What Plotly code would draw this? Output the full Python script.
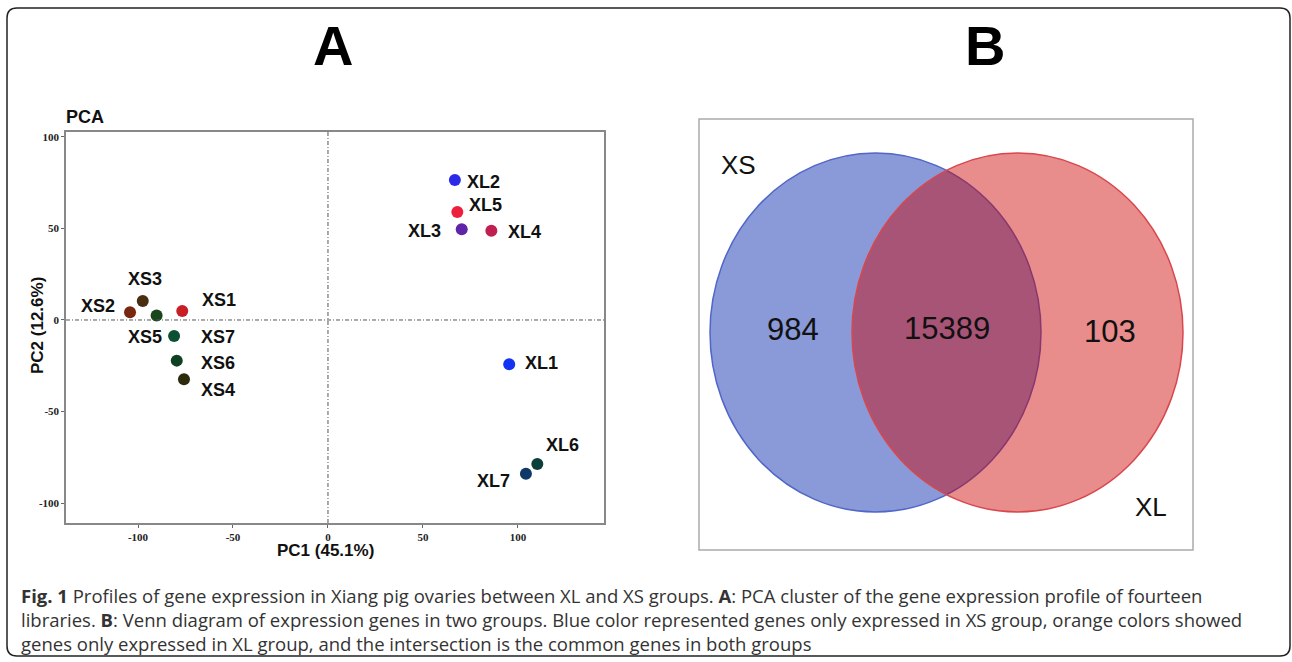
import plotly.graph_objects as go

W, H = 1292, 662

# PCA scores of the fourteen libraries
samples = ["XS1", "XS2", "XS3", "XS4", "XS5", "XS6", "XS7",
           "XL1", "XL2", "XL3", "XL4", "XL5", "XL6", "XL7"]
pc1 = [-76.7, -104.2, -97.5, -75.8, -90.2, -79.6, -81.0,
       95.4, 66.8, 70.4, 86.0, 68.1, 110.2, 104.2]
pc2 = [4.9, 4.2, 10.4, -32.4, 2.4, -22.2, -8.7,
       -24.2, 76.5, 49.6, 48.8, 59.0, -78.7, -84.0]
sample_colors = ["#c81f25", "#77280f", "#4b2d10", "#2c2b0b", "#1a461c", "#0f4120", "#0b5033",
                 "#1432f2", "#2a2ae8", "#5e25a8", "#c01f52", "#ee1f3c", "#0d3f3a", "#0f3768"]
# label offsets (pixels, right / up) from each point
label_dx = [37, -32, 2, 34, -12, 41, 44, 32, 29, -37, 33, 28, 25, -32]
label_dy = [11, 6, 22, -11, -21, -2, -1, 1, -2, -2, -1, 7, 19, -7]

x_ticks = [-100, -50, 0, 50, 100]
y_ticks = [-100, -50, 0, 50, 100]

# Venn counts: XS only, shared, XL only
venn_sets = ["XS", "XL"]
venn_counts = [984, 15389, 103]

caption_lines = [
    "<b>Fig. 1</b> Profiles of gene expression in Xiang pig ovaries between XL and XS groups. "
    "<b>A</b>: PCA cluster of the gene expression profile of fourteen",
    "libraries. <b>B</b>: Venn diagram of expression genes in two groups. Blue color represented "
    "genes only expressed in XS group, orange colors showed",
    "genes only expressed in XL group, and the intersection is the common genes in both groups",
]

SANS = "Liberation Sans, Arial, sans-serif"


def px(x):
    return x / W


def py(y):
    return 1 - y / H


fig = go.Figure()

fig.add_trace(go.Scatter(
    x=pc1, y=pc2, mode="markers", text=samples,
    marker=dict(size=12, color=sample_colors, line=dict(width=0)),
    hoverinfo="text", showlegend=False, xaxis="x", yaxis="y",
))

annotations = []
for s, x, y, dx, dy in zip(samples, pc1, pc2, label_dx, label_dy):
    annotations.append(dict(
        x=x, y=y, xref="x", yref="y", text=f"<b>{s}</b>", showarrow=False,
        xshift=dx, yshift=dy,
        font=dict(family=SANS, size=18, color="#111"),
        xanchor="center", yanchor="middle",
    ))

shapes = []
# reference lines through the origin
ref_line = dict(color="#555", width=1, dash="4px,2px,1px,2px")
shapes.append(dict(type="line", xref="x", yref="y domain", x0=0, x1=0, y0=0, y1=1, line=ref_line))
shapes.append(dict(type="line", xref="x domain", yref="y", x0=0, x1=1, y0=0, y1=0, line=ref_line))

# Venn panel geometry (axis units = pixels of the panel)
vx0, vx1, vy0, vy1 = 699, 1193, 119, 550
vw, vh = vx1 - vx0, vy1 - vy0
ell_l = dict(x0=11, x1=342, y0=38, y1=397)
ell_r = dict(x0=153, x1=484, y0=38, y1=397)
shapes.append(dict(type="rect", xref="x2 domain", yref="y2 domain", x0=0, x1=1, y0=0, y1=1,
                   line=dict(color="#aaa", width=1.5), fillcolor="rgba(0,0,0,0)"))
shapes.append(dict(type="circle", xref="x2", yref="y2", **ell_l,
                   fillcolor="rgba(30,60,180,0.52)", line=dict(color="#5066c8", width=1.5)))
shapes.append(dict(type="circle", xref="x2", yref="y2", **ell_r,
                   fillcolor="rgba(204,0,0,0.45)", line=dict(color="#d9474d", width=1.5)))

venn_font = dict(family=SANS, size=31, color="#111")
venn_pos = [((ell_l["x0"] + ell_r["x0"]) / 2 + 12, 221),
            ((ell_r["x0"] + ell_l["x1"]) / 2, 222),
            ((ell_l["x1"] + ell_r["x1"]) / 2 - 2, 219)]
for (vx, vy), c in zip(venn_pos, venn_counts):
    annotations.append(dict(x=vx, y=vy, xref="x2", yref="y2", text=str(c), showarrow=False,
                            font=venn_font, xanchor="center", yanchor="middle"))
annotations.append(dict(x=ell_l["x0"] + 28, y=ell_l["y1"] - 12, xref="x2", yref="y2",
                        text=venn_sets[0], showarrow=False,
                        font=dict(family=SANS, size=26, color="#111"),
                        xanchor="center", yanchor="middle"))
annotations.append(dict(x=ell_r["x1"] - 32, y=ell_r["y0"] + 5, xref="x2", yref="y2",
                        text=venn_sets[1], showarrow=False,
                        font=dict(family=SANS, size=26, color="#111"),
                        xanchor="center", yanchor="middle"))

# panel letters and titles
for letter, lx in (("A", 333), ("B", 985)):
    annotations.append(dict(x=px(lx), y=py(46), xref="paper", yref="paper", text=f"<b>{letter}</b>",
                            showarrow=False, xanchor="center", yanchor="middle",
                            font=dict(family=SANS, size=56, color="#000")))
annotations.append(dict(x=px(64), y=py(117), xref="paper", yref="paper", text="<b>PCA</b>",
                        showarrow=False, xanchor="left", yanchor="middle",
                        font=dict(family=SANS, size=18, color="#111")))

title_font = dict(family=SANS, size=17, color="#111")
annotations.append(dict(x=px(325), y=py(550), xref="paper", yref="paper", text="<b>PC1 (45.1%)</b>",
                        showarrow=False, xanchor="center", yanchor="middle", font=title_font))
annotations.append(dict(x=px(37), y=py(326), xref="paper", yref="paper", text="<b>PC2 (12.6%)</b>",
                        showarrow=False, xanchor="center", yanchor="middle", textangle=-90,
                        font=title_font))

# figure caption
annotations.append(dict(x=px(19), y=py(619), xref="paper", yref="paper",
                        text="<br>".join(caption_lines),
                        showarrow=False, xanchor="left", yanchor="middle", align="left",
                        font=dict(family="Open Sans", size=18.5, color="#333")))

# rounded outer frame
fx0, fy0, fx1, fy1, r = 7, 8, 1290, 656, 10
path = (f"M {px(fx0 + r)},{py(fy0)} L {px(fx1 - r)},{py(fy0)} "
        f"Q {px(fx1)},{py(fy0)} {px(fx1)},{py(fy0 + r)} L {px(fx1)},{py(fy1 - r)} "
        f"Q {px(fx1)},{py(fy1)} {px(fx1 - r)},{py(fy1)} L {px(fx0 + r)},{py(fy1)} "
        f"Q {px(fx0)},{py(fy1)} {px(fx0)},{py(fy1 - r)} L {px(fx0)},{py(fy0 + r)} "
        f"Q {px(fx0)},{py(fy0)} {px(fx0 + r)},{py(fy0)} Z")
shapes.append(dict(type="path", xref="paper", yref="paper", path=path,
                   line=dict(color="#222", width=1.5)))

tick_font = dict(family="Liberation Serif, Times New Roman, serif", size=11, color="#222")

fig.update_layout(
    width=W, height=H, margin=dict(l=0, r=0, t=0, b=0),
    paper_bgcolor="white", plot_bgcolor="white",
    xaxis=dict(domain=[px(66), px(604)], range=[-137.9, 145.3], tickvals=x_ticks,
               ticktext=[f"<b>{t}</b>" for t in x_ticks], tickfont=tick_font,
               ticks="outside", ticklen=3, tickcolor="#666", showgrid=False, zeroline=False,
               showline=True, linecolor="#888", linewidth=1.5, mirror=True),
    yaxis=dict(domain=[py(523), py(132)], range=[-110.9, 102.7], tickvals=y_ticks,
               ticktext=[f"<b>{t}</b>" for t in y_ticks], tickfont=tick_font,
               ticks="outside", ticklen=3, tickcolor="#666", showgrid=False, zeroline=False,
               showline=True, linecolor="#888", linewidth=1.5, mirror=True),
    xaxis2=dict(domain=[px(vx0), px(vx1)], range=[0, vw], visible=False, anchor="y2"),
    yaxis2=dict(domain=[py(vy1), py(vy0)], range=[0, vh], visible=False, anchor="x2"),
    shapes=shapes, annotations=annotations,
)

fig.write_html("out.html")
